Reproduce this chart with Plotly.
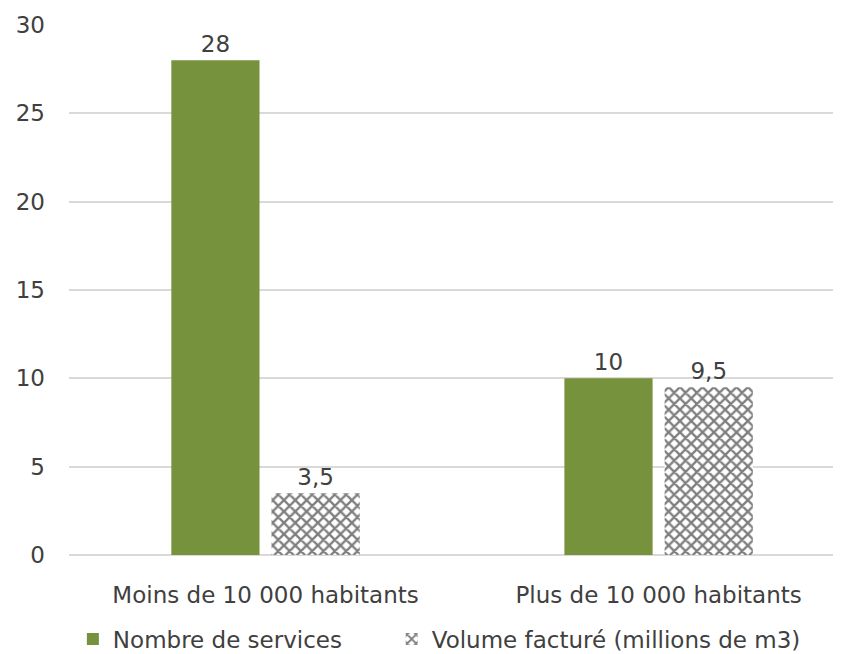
import plotly.graph_objects as go

# data
categories = ["Moins de 10 000 habitants", "Plus de 10 000 habitants"]
services = [28, 10]
volume = [3.5, 9.5]
services_labels = ["28", "10"]
volume_labels = ["3,5", "9,5"]
y_ticks = [0, 5, 10, 15, 20, 25, 30]

font_family = "DejaVu Sans, sans-serif"
text_color = "#404040"
fsize = 23

# the page body adds an 8px margin, so the figure is 8px smaller than the window
fig = go.Figure()

fig.add_trace(go.Bar(
    name="Nombre de services",
    x=categories,
    y=services,
    text=services_labels,
    textposition="outside",
    marker=dict(color="#76923C", line=dict(width=0)),
    legend="legend",
))

fig.add_trace(go.Bar(
    name="Volume facturé (millions de m3)",
    x=categories,
    y=volume,
    text=volume_labels,
    textposition="outside",
    marker=dict(
        color="white",
        line=dict(width=0),
        pattern=dict(shape="x", fgcolor="black", bgcolor="white",
                     size=8, solidity=0.5),
    ),
    legend="legend2",
))

fig.update_traces(textfont=dict(size=fsize, color=text_color), cliponaxis=False)

legend_common = dict(
    orientation="h",
    y=-0.118, yanchor="top",
    xanchor="left",
    font=dict(size=fsize, color=text_color),
    itemwidth=30,
    bgcolor="rgba(0,0,0,0)",
)

fig.update_layout(
    width=833,
    height=646,
    margin=dict(l=61, r=0, t=17, b=99, autoexpand=False),
    paper_bgcolor="white",
    plot_bgcolor="white",
    font=dict(family=font_family, size=fsize, color=text_color),
    barmode="group",
    bargap=0.49,
    bargroupgap=0.12,
    showlegend=True,
    legend=dict(x=0.005, **legend_common),
    legend2=dict(x=0.418, **legend_common),
    xaxis=dict(
        range=[-0.5, 1.464],
        showgrid=False,
        showline=False,
        ticks="",
        automargin=False,
        ticklabelstandoff=24,
        tickfont=dict(size=fsize, color=text_color),
    ),
    yaxis=dict(
        range=[0, 30],
        tickvals=y_ticks,
        showgrid=True,
        gridcolor="#d9d9d9",
        gridwidth=1.5,
        zeroline=True,
        zerolinecolor="#d9d9d9",
        zerolinewidth=1.5,
        showline=False,
        ticks="",
        automargin=False,
        ticklabelstandoff=23,
        tickfont=dict(size=fsize, color=text_color),
    ),
)

fig.write_html("out.html")
